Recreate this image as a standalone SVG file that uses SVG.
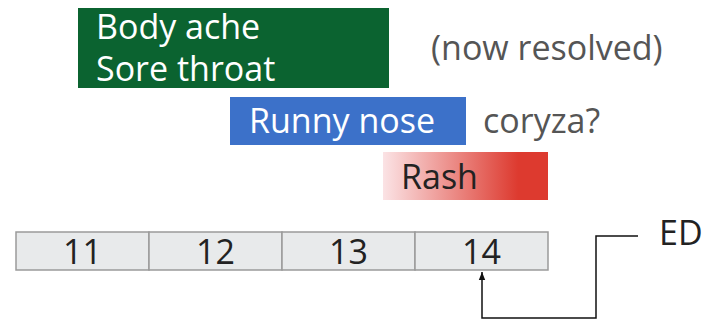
<svg xmlns="http://www.w3.org/2000/svg" width="709" height="320" viewBox="0 0 709 320">
<style>
text{font-family:"Open Sans","Noto Sans",sans-serif;font-size:34px}
.w{fill:#ffffff}
.g{fill:#555555}
.d{fill:#222222}
.cell{fill:#e8eaeb;stroke:#9a9a9a;stroke-width:1.5}
.conn{fill:none;stroke:#111111;stroke-width:1.5}
</style>
<defs>
<linearGradient id="rashG" x1="0" y1="0" x2="1" y2="0">
<stop offset="0" stop-color="#fbe3e5"/>
<stop offset="0.82" stop-color="#dd3a2f"/>
<stop offset="1" stop-color="#dd3a2f"/>
</linearGradient>
<marker id="arr" viewBox="0 0 10 10" refX="10" refY="5" markerWidth="8" markerHeight="8" markerUnits="userSpaceOnUse" orient="auto">
<path d="M0,1 L10,5 L0,9 z" fill="#111111"/>
</marker>
</defs>
<g id="body-ache">
<rect x="78" y="8" width="311" height="80" fill="#0b6330"/>
<text class="w" x="96" y="39">Body ache</text>
<text class="w" x="96" y="81">Sore throat</text>
</g>
<g id="now-resolved"><text class="g" x="431" y="60">(now resolved)</text></g>
<g id="runny-nose">
<rect x="230" y="97" width="236" height="48" fill="#3c71c9"/>
<text class="w" x="249" y="133">Runny nose</text>
</g>
<g id="coryza"><text class="g" x="483" y="133">coryza?</text></g>
<g id="rash">
<rect x="383" y="152" width="165" height="48" fill="url(#rashG)"/>
<text class="d" x="401" y="189">Rash</text>
</g>
<g id="timeline">
<rect class="cell" x="16" y="232" width="133" height="38"/>
<rect class="cell" x="149" y="232" width="133" height="38"/>
<rect class="cell" x="282" y="232" width="133" height="38"/>
<rect class="cell" x="415" y="232" width="133" height="38"/>
<text class="d" x="82.5" y="264" text-anchor="middle">11</text>
<text class="d" x="215.5" y="264" text-anchor="middle">12</text>
<text class="d" x="348.5" y="264" text-anchor="middle">13</text>
<text class="d" x="481.5" y="264" text-anchor="middle">14</text>
</g>
<g id="ed"><text class="d" x="659" y="245">ED</text></g>
<g id="connectors">
<path class="conn" d="M638,236 H596 V318 H482 V272" marker-end="url(#arr)"/>
</g>
</svg>
